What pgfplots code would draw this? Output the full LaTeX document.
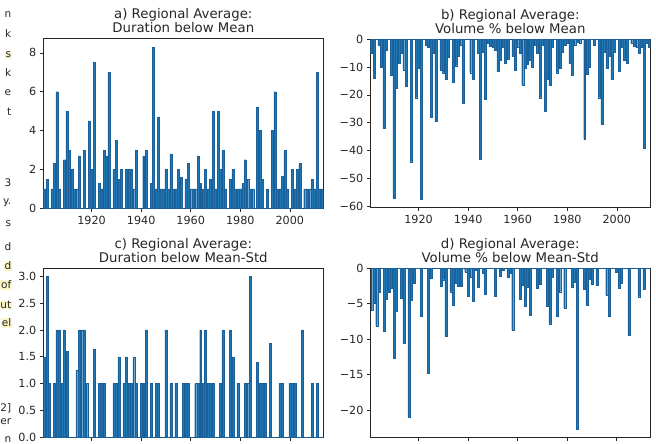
\documentclass[border=0pt]{standalone}
\usepackage{fontspec}
\setmainfont{DejaVu Sans}
\usepackage{pgfplots}
\pgfplotsset{compat=1.18}
\usepackage{pgfplotstable}

\definecolor{barblue}{HTML}{1F77B4}
\definecolor{baredge}{HTML}{1A609A}
\definecolor{hl}{HTML}{FAF6C8}

% year, duration below mean, volume % below mean, duration below mean-std, volume % below mean-std
\pgfplotstableread{
year a b c d
1901 1.0 -5 1.5 -5.9
1902 1.5 -14 3.0 -4.9
1903 0 0 1.0 -8.1
1904 1.0 -2 0 -3.4
1905 2.3 -10 1.0 0
1906 6.0 -32 2.0 -8.8
1907 1.0 -4 2.0 -4.4
1908 0 0 1.0 -3.4
1909 2.5 -13 2.0 -2.8
1910 5.0 -57 1.6 -12.7
1911 3.0 -17.5 0 -6.1
1912 2.0 -8.5 0 0
1913 1.0 -5 0 -4.2
1914 1.0 -11 1.25 -10.6
1915 2.7 -17 2.0 0
1916 0 0 2.0 -21
1917 3.0 -44 2.0 -4.5
1918 0 0 1.0 -2.1
1919 4.5 -21 0 0
1920 2.0 -10.5 0 0
1921 7.5 -57.5 1.65 -6.7
1922 0 0 0 0
1923 1.3 -2 1.0 0
1924 1.0 -3 1.0 -14.8
1925 3.0 -28 1.0 -1.4
1926 2.7 -5 0 0
1927 7.0 -29.5 0 0
1928 0 0 0 0
1929 2.0 -11 1.0 -2.5
1930 3.5 -12 1.0 -1.6
1931 1.5 -14.5 1.5 -9.6
1932 2.0 -6.5 0 0
1933 0 0 1.0 -3.3
1934 2.0 -15.5 1.5 -5.2
1935 2.0 -9.5 1.0 -2.1
1936 2.0 -6 1.0 -2.5
1937 1.0 -2 1.5 -2.5
1938 3.0 -23 1.0 0
1939 0 0 0 -0.5
1940 0 0 1.0 -3.9
1941 2.7 -12 1.0 -1.2
1942 3.0 -14.5 2.0 -4.6
1943 0 0 0 -0.3
1944 1.3 -5 1.0 -2.6
1945 8.3 -43 0 0
1946 1.0 -4.5 1.0 -0.7
1947 4.7 -21.5 1.0 -3.6
1948 1.0 -1.5 0 0
1949 1.0 -2.5 0 0
1950 2.0 -3 2.0 0
1951 1.0 -4 0 -3.9
1952 2.8 -11.5 1.0 0
1953 1.0 -7.5 0 -1.1
1954 1.0 -3 1.0 -0.3
1955 2.0 -8.5 0 0
1956 1.6 -7 0 -1.2
1957 0 0 1.0 -0.7
1958 1.5 -6 1.0 -8.7
1959 2.3 -11 1.0 0
1960 1.0 -3 0 0
1961 1.0 -5 0 -4.4
1962 1.0 -16.5 1.0 -2.4
1963 2.7 -10.5 1.0 -5.3
1964 1.3 -9 2.0 -2.6
1965 1.0 -7.5 1.0 -6.6
1966 2.0 -10 2.0 0
1967 1.0 -2 1.0 0
1968 1.5 -5 1.0 -2.8
1969 5.0 -21 1.0 -2.2
1970 1.0 -2 0 0
1971 5.0 -26 0 0
1972 2.0 -14.5 1.0 -5.3
1973 3.0 -16.5 2.0 -7.8
1974 1.0 -3 0 -1.2
1975 0 0 0 0
1976 1.5 -12 2.0 -6.8
1977 2.0 -10.5 1.5 -3.3
1978 1.0 -4.5 0 0
1979 1.0 -2 1.0 -5.6
1980 1.0 -1.5 0 0
1981 1.3 -8.5 0 0
1982 2.5 -13 1.0 -2.6
1983 1.5 -2 1.0 -1.9
1984 1.0 -1 3.0 -22.7
1985 1.0 -1.5 0 0
1986 0 0 0 0
1987 5.2 -36 1.4 -3.0
1988 4.0 -12.5 1.0 -5.2
1989 1.5 -10 1.0 -1.5
1990 0 0 1.0 -2.2
1991 1.0 -2 0 0
1992 0 0 1.75 -2.4
1993 4.0 -21 0 0
1994 6.0 -30.5 0 0
1995 1.0 -4.5 0 0
1996 1.0 -10.5 1.0 -3.8
1997 1.65 -6 1.0 -6.7
1998 3.0 -14.5 0 0
1999 1.0 -4.5 0 0
2000 0 0 1.0 -0.5
2001 2.0 -11.5 1.0 -2.8
2002 1.0 -3 1.0 -2.1
2003 2.0 -7.5 0 0
2004 2.3 -8.5 0 0
2005 0 0 2.0 -9.4
2006 1.0 -1.5 0 0
2007 1.0 -2.5 0 0
2008 1.0 -3 0 0
2009 1.5 -5 1.0 -4.0
2010 1.0 -3 0 0
2011 7.0 -39 1.0 -3.0
2012 1.0 -1.5 0 0
2013 1.0 -3 0 0
}\droughts

\pgfplotsset{
  panel/.style={
    scale only axis, anchor=south west,
    ybar, bar width=0.8,
    xmin=1900.5, xmax=2013.5,
    xtick={1920,1940,1960,1980,2000},
    xticklabels={1920,1940,1960,1980,2000},
    scaled ticks=false,
    tick pos=left, tick align=outside,
    major tick length=3.5pt,
    tick style={black!85, line width=0.7pt},
    axis line style={black!85, line width=0.9pt},
    ticklabel style={font=\fontsize{11.2}{12}\selectfont, text=black!85},
    xticklabel style={yshift=-1pt},
    /pgf/number format/assume math mode=true,
    title style={font=\fontsize{13.3}{13.2}\selectfont, align=center,
      text=black!85, yshift=-3.5pt},
  },
  bars/.style={fill=barblue, draw=baredge, line width=0.3pt},
}

\begin{document}
\begin{tikzpicture}

\begin{axis}[panel, at={(43.3pt,235.7pt)}, width=280pt, height=170pt,
  ymin=0, ymax=8.75,
  ytick={0,2,4,6,8}, yticklabels={0,2,4,6,8},
  title={a) Regional Average:\\Duration below Mean}]
  \addplot[bars] table[x=year, y=a] {\droughts};
\end{axis}

\begin{axis}[panel, at={(370.3pt,236.7pt)}, width=280pt, height=168pt,
  ymin=-60.4, ymax=0,
  ytick={-60,-50,-40,-30,-20,-10,0},
  yticklabels={−60,−50,−40,−30,−20,−10,0},
  title={b) Regional Average:\\Volume \% below Mean}]
  \addplot[bars] table[x=year, y=b] {\droughts};
\end{axis}

\begin{axis}[panel, at={(43.3pt,6.7pt)}, width=280pt, height=169pt,
  ymin=0, ymax=3.15,
  ytick={0,0.5,1,1.5,2,2.5,3},
  yticklabels={0.0,0.5,1.0,1.5,2.0,2.5,3.0},
  xticklabels={},
  title={c) Regional Average:\\Duration below Mean-Std}]
  \addplot[bars] table[x=year, y=c] {\droughts};
\end{axis}

\begin{axis}[panel, at={(370.5pt,6.7pt)}, width=279.5pt, height=169pt,
  ymin=-23.8, ymax=0,
  ytick={-20,-15,-10,-5,0},
  yticklabels={−20,−15,−10,−5,0},
  xticklabels={},
  title={d) Regional Average:\\Volume \% below Mean-Std}]
  \addplot[bars] table[x=year, y=d] {\droughts};
\end{axis}

% fragments of the surrounding page text, cut off at the left edge
\begin{scope}[every node/.style={anchor=east, inner sep=0.6pt,
    font=\fontsize{10.5}{12}\selectfont, text=black!85}]
  \node at (12pt,429pt) {n};
  \node at (12pt,410.7pt) {k};
  \node[fill=hl] at (12pt,389pt) {s};
  \node at (12pt,371.3pt) {k};
  \node at (12pt,351.3pt) {e};
  \node at (12pt,332.3pt) {t};
  \node at (12pt,261.3pt) {3};
  \node at (12pt,241.3pt) {y.};
  \node at (12pt,220pt) {s};
  \node at (12pt,197pt) {d};
  \node[fill=hl] at (12pt,178pt) {d};
  \node[fill=hl] at (12pt,159pt) {of};
  \node[fill=hl] at (12pt,139pt) {ut};
  \node[fill=hl] at (12pt,121pt) {el};
  \node at (12pt,36pt) {2]};
  \node at (12pt,22pt) {er};
  \node[anchor=base east] at (12pt,1.5pt) {n};
\end{scope}

\pgfresetboundingbox
\path[use as bounding box] (0pt,0pt) rectangle (656pt,444pt);
\end{tikzpicture}
\end{document}
